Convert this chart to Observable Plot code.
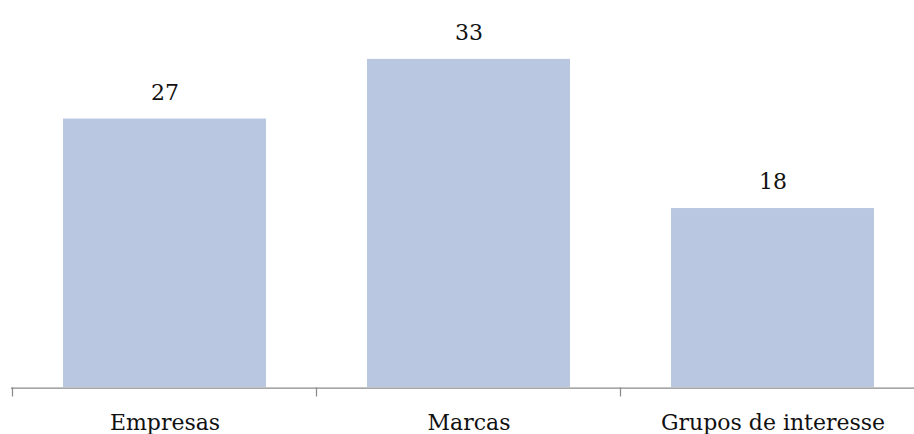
<!DOCTYPE html>
<html>
<head>
<meta charset="utf-8">
<script src="https://cdn.jsdelivr.net/npm/d3@7"></script>
<script src="https://cdn.jsdelivr.net/npm/@observablehq/plot@0.6"></script>
<style>
  html, body { margin: 0; padding: 0; background: #fff; }
  #chart svg { display: block; }
</style>
</head>
<body>
<div id="chart"></div>
<script>
// Categories and their counts
const categories = ["Empresas", "Marcas", "Grupos de interesse"];
const counts = [27, 33, 18];

const rows = categories.map((c, i) => ({category: c, count: counts[i]}));

const barColor = "#b9c7e1";
const axisColor = "#8a8a8a";
const textColor = "#111";
const font = "'DejaVu Serif', serif";

// Short tick marks at the boundaries between category bands
function bandEdgeTicks(index, scales) {
  const x = scales.x;
  const step = x.step ? x.step() : x.bandwidth() / (1 - 1 / 3);
  const half = (step - x.bandwidth()) / 2;
  const edges = categories.map(c => x(c) - half)
    .concat([x(categories[categories.length - 1]) + x.bandwidth() + half]);
  const y0 = scales.y(0) + 0.5;
  const g = d3.create("svg:g")
    .attr("stroke", axisColor)
    .attr("stroke-width", 1.25);
  g.selectAll("line")
    .data(edges)
    .join("line")
    .attr("x1", d => d).attr("x2", d => d)
    .attr("y1", y0).attr("y2", y0 + 9);
  return g.node();
}

const chart = Plot.plot({
  width: 914,
  height: 434,
  marginLeft: 11,
  marginRight: -11,
  marginTop: 39,
  marginBottom: 47,
  style: {fontFamily: font, background: "#fff"},
  x: {domain: categories, paddingInner: 1 / 3, paddingOuter: 1 / 6, label: null},
  y: {domain: [0, 35], axis: null},
  marks: [
    Plot.barY(rows, {x: "category", y: "count", fill: barColor}),
    Plot.ruleY([0], {stroke: axisColor, strokeWidth: 1.25, dy: 0.5}),
    bandEdgeTicks,
    Plot.text(rows, {
      x: "category", y: "count", text: d => String(d.count),
      lineAnchor: "bottom", dy: -19.5,
      fontSize: 22, fill: textColor, fontFamily: font
    }),
    Plot.axisX({
      tickSize: 0, tickPadding: 27, fontSize: 22,
      color: textColor, fontFamily: font, label: null
    })
  ]
});

document.getElementById("chart").appendChild(chart);
</script>
</body>
</html>
